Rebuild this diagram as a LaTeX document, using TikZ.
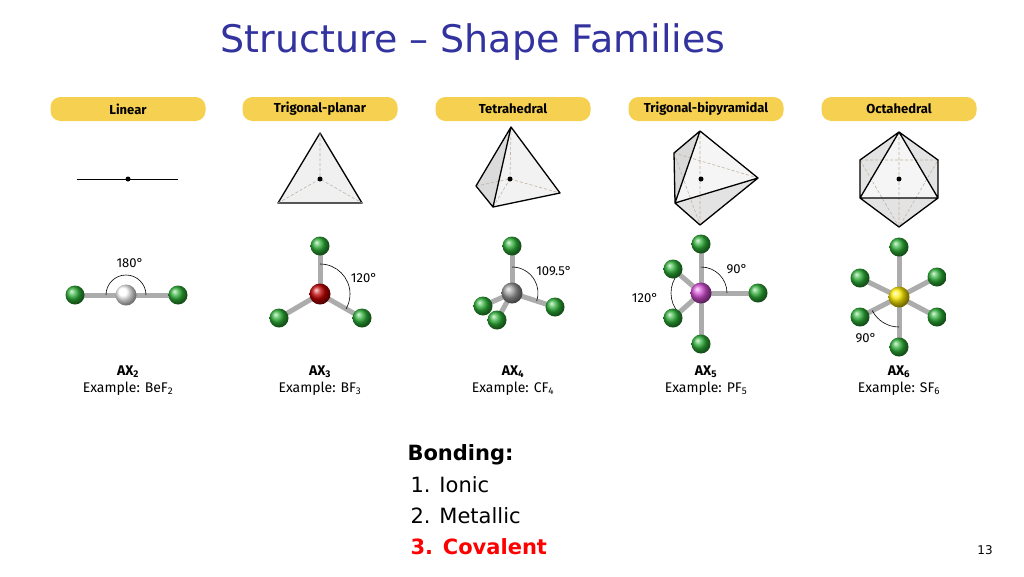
\documentclass[tikz,border=0pt]{standalone}
\usepackage{fontspec}
\setmainfont{DejaVu Sans}
\newfontfamily\labfont{Fira Sans}
\definecolor{titleblue}{RGB}{51,51,160}
\definecolor{pillyellow}{RGB}{246,208,80}
\definecolor{fgreen}{RGB}{45,175,55}
\tikzset{
  pill/.style={fill=pillyellow,rounded corners=10pt,minimum width=155pt,minimum height=24pt,inner sep=0pt,font=\labfont\fontsize{13}{15}\selectfont\bfseries},
  edge/.style={line width=1.3pt,line join=round},
  hidden/.style={densely dashed,brown!40!gray!60,line width=0.6pt},
  bond/.style={line width=5pt,gray!65},
  fatom/.style={circle,ball color=fgreen,minimum size=19pt,inner sep=0pt},
  catom/.style={circle,minimum size=21pt,inner sep=0pt},
  anglearc/.style={line width=0.6pt},
  anglab/.style={font=\labfont\fontsize{13}{15}\selectfont},
  ax/.style={font=\labfont\fontsize{14}{16}\selectfont\bfseries},
  example/.style={font=\labfont\fontsize{14}{16}\selectfont}
}
\begin{document}
\begin{tikzpicture}[x=1pt,y=-1pt]
\useasboundingbox (0,0) rectangle (1024,576);

% TITLE
\node[text=titleblue,font=\fontsize{38}{42}\selectfont] (title) at (473,42) {Structure – Shape Families};

% PILLS
\node[pill] (plin) at (128,109) {Linear};
\node[pill] (ptri) at (320,109) {Trigonal-planar};
\node[pill] (ptet) at (513,109) {Tetrahedral};
\node[pill] (ptbp) at (706,109) {Trigonal-bipyramidal};
\node[pill] (poct) at (899,109) {Octahedral};

% LINEAR
\draw[line width=1pt] (77,179) -- (178,179);
\fill (128,179) circle (2.5);
\coordinate (l0) at (126,295);
\coordinate (l1) at (75,295);
\coordinate (l2) at (178,295);
\draw[bond] (l1) -- (l2);
\draw[anglearc] ([xshift=-20pt]l0) arc[start angle=180,end angle=0,radius=20pt];
\node[anglab] (a180) at (130,263) {180°};
\node[fatom] (lf1) at (l1) {};
\node[fatom] (lf2) at (l2) {};
\node[catom,ball color=white] (lc) at (l0) {};
\node[ax] (ax2) at (128,372) {AX\textsubscript{2}};
\node[example] (ex2) at (128,389) {Example: BeF\textsubscript{2}};

% TRIGONAL PLANAR
\draw[edge,fill=gray!12] (320,133) -- (278,203) -- (362,203) -- cycle;
\draw[hidden] (320,133) -- (320,179) (278,203) -- (320,179) -- (362,203);
\fill (320,179) circle (2.5);
\coordinate (t0) at (320,294);
\coordinate (t1) at (320,246);
\coordinate (t2) at (279,318);
\coordinate (t3) at (362,318);
\foreach \p in {t1,t2,t3} \draw[bond] (t0) -- (\p);
\draw[anglearc] ([yshift=30pt]t0) arc[start angle=90,end angle=-30,radius=30pt];
\node[anglab] (a120) at (364,278) {120°};
\foreach \p in {t1,t2,t3} \node[fatom] (f\p) at (\p) {};
\node[catom,ball color=red!75!black] (tc) at (t0) {};
\node[ax] (ax3) at (320,372) {AX\textsubscript{3}};
\node[example] (ex3) at (320,389) {Example: BF\textsubscript{3}};

% TETRAHEDRAL
\draw[hidden] (476,186) -- (560,193);
\fill[gray!28] (511,127) -- (476,186) -- (493,207) -- cycle;
\fill[gray!10] (511,127) -- (493,207) -- (560,193) -- cycle;
\draw[hidden] (511,127) -- (510,179) (476,186) -- (510,179) -- (560,193) (493,207) -- (510,179);
\draw[edge] (511,127) -- (476,186) -- (493,207) -- (560,193) -- cycle (511,127) -- (493,207);
\fill (510,179) circle (2.5);
\coordinate (r0) at (512,293);
\coordinate (r1) at (512,246);
\coordinate (r2) at (483,306);
\coordinate (r3) at (497,320);
\coordinate (r4) at (555,307);
\foreach \p in {r1,r2,r3,r4} \draw[bond] (r0) -- (\p);
\draw[anglearc] ([yshift=26pt]r0) arc[start angle=90,end angle=-18,radius=26pt];
\node[anglab] (a109) at (554,271) {109.5°};
\foreach \p in {r1,r2,r4} \node[fatom] (f\p) at (\p) {};
\node[catom,ball color=gray!80] (rc) at (r0) {};
\node[fatom] (fr3) at (r3) {};
\node[ax] (ax4) at (513,372) {AX\textsubscript{4}};
\node[example] (ex4) at (513,389) {Example: CF\textsubscript{4}};

% TRIGONAL BIPYRAMIDAL
\fill[gray!30] (700,131) -- (674,153) -- (675,203) -- cycle;
\fill[gray!8] (700,131) -- (675,203) -- (758,178) -- cycle;
\fill[gray!22] (675,203) -- (700,225) -- (758,178) -- cycle;
\draw[hidden] (674,153) -- (758,178) (700,131) -- (700,225) (674,153) -- (700,225);
\draw[edge] (700,131) -- (674,153) -- (675,203) -- (700,225) -- (758,178) -- cycle
  (700,131) -- (675,203) -- (758,178);
\fill (701,179) circle (2.5);
\coordinate (b0) at (701,293);
\coordinate (b1) at (701,244);
\coordinate (b2) at (701,344);
\coordinate (b3) at (758,293);
\coordinate (b4) at (673,269);
\coordinate (b5) at (673,318);
\foreach \p in {b1,b2,b3,b4,b5} \draw[bond] (b0) -- (\p);
\draw[anglearc] ([yshift=26pt]b0) arc[start angle=90,end angle=0,radius=26pt];
\draw[anglearc] (b0) ++(139:30pt) arc[start angle=139,end angle=222,radius=30pt];
\node[anglab] (a90b) at (737,269) {90°};
\node[anglab] (a120b) at (645,298) {120°};
\foreach \p in {b1,b2,b3,b4,b5} \node[fatom] (f\p) at (\p) {};
\node[catom,ball color=violet!50!magenta!70] (bc) at (b0) {};
\node[ax] (ax5) at (706,372) {AX\textsubscript{5}};
\node[example] (ex5) at (706,389) {Example: PF\textsubscript{5}};

% OCTAHEDRAL
\fill[gray!22] (899,132) -- (938,160) -- (938,198) -- (899,227) -- (860,198) -- (860,160) -- cycle;
\fill[gray!8] (899,132) -- (860,198) -- (938,198) -- cycle;
\draw[hidden] (860,160) -- (938,160) -- (899,227) -- cycle (899,132) -- (899,227);
\draw[edge] (899,132) -- (938,160) -- (938,198) -- (899,227) -- (860,198) -- (860,160) -- cycle
  (899,132) -- (860,198) -- (938,198) -- cycle;
\fill (899,179) circle (2.5);
\coordinate (o0) at (899,297);
\coordinate (o1) at (899,247);
\coordinate (o2) at (899,347);
\coordinate (o3) at (860,278);
\coordinate (o4) at (937,277);
\coordinate (o5) at (860,317);
\coordinate (o6) at (937,317);
\foreach \p in {o1,o2,o3,o4,o5,o6} \draw[bond] (o0) -- (\p);
\draw[anglearc] (o0) ++(207:30pt) arc[start angle=207,end angle=270,radius=30pt];
\node[anglab] (a90o) at (866,338) {90°};
\foreach \p in {o1,o2,o3,o4,o5,o6} \node[fatom] (f\p) at (\p) {};
\node[catom,ball color=yellow!85!orange] (oc) at (o0) {};
\node[ax] (ax6) at (899,372) {AX\textsubscript{6}};
\node[example] (ex6) at (899,389) {Example: SF\textsubscript{6}};

% BONDING
\node[anchor=west,font=\fontsize{21}{24}\selectfont\bfseries] (bond) at (404,455) {Bonding:};
\node[anchor=west,font=\fontsize{21}{24}\selectfont] (b1t) at (407,485) {1. Ionic};
\node[anchor=west,font=\fontsize{21}{24}\selectfont] (b2t) at (407,516) {2. Metallic};
\node[anchor=west,font=\fontsize{21}{24}\selectfont\bfseries,text=red] (b3t) at (407,547) {3. Covalent};
\node[font=\fontsize{12}{14}\selectfont] (page) at (985,550) {13};
\end{tikzpicture}
\end{document}
